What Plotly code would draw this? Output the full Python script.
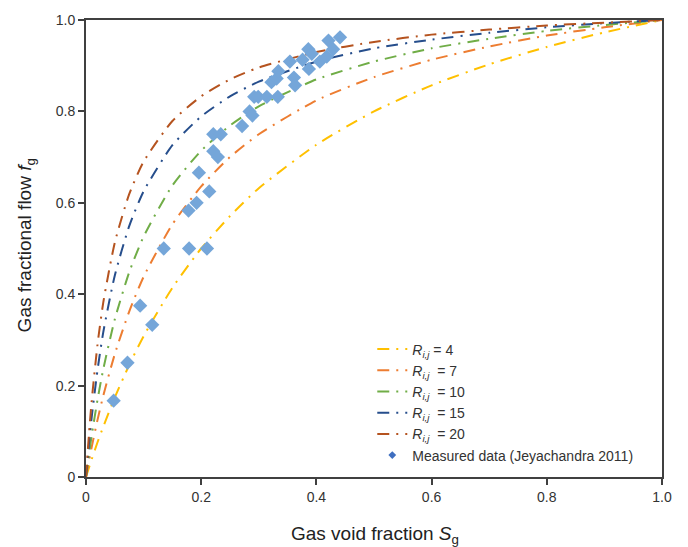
import plotly.graph_objects as go

# Gas void fraction grid for the model curves
s_grid = [0, 0.005, 0.01, 0.02, 0.03, 0.05, 0.075, 0.1, 0.15, 0.2, 0.25,
          0.3, 0.4, 0.5, 0.6, 0.7, 0.8, 0.9, 1.0]

# Gas fractional flow for each resistance ratio R_i,j
fg_r4 = [0, 0.020, 0.039, 0.076, 0.110, 0.174, 0.245, 0.308, 0.414, 0.500,
         0.571, 0.632, 0.727, 0.800, 0.857, 0.903, 0.941, 0.973, 1.0]
fg_r7 = [0, 0.034, 0.066, 0.125, 0.178, 0.269, 0.362, 0.438, 0.553, 0.636,
         0.700, 0.750, 0.824, 0.875, 0.913, 0.942, 0.966, 0.984, 1.0]
fg_r10 = [0, 0.048, 0.092, 0.169, 0.236, 0.345, 0.448, 0.526, 0.638, 0.714,
          0.769, 0.811, 0.870, 0.909, 0.938, 0.959, 0.976, 0.989, 1.0]
fg_r15 = [0, 0.070, 0.132, 0.234, 0.317, 0.441, 0.549, 0.625, 0.726, 0.789,
          0.833, 0.865, 0.909, 0.938, 0.957, 0.972, 0.984, 0.993, 1.0]
fg_r20 = [0, 0.091, 0.168, 0.290, 0.382, 0.513, 0.619, 0.690, 0.779, 0.833,
          0.870, 0.896, 0.930, 0.952, 0.968, 0.979, 0.988, 0.994, 1.0]

# Measured data (Jeyachandra 2011)
meas_sg = [0.048, 0.072, 0.094, 0.115, 0.135, 0.179, 0.210, 0.178, 0.192,
           0.196, 0.214, 0.221, 0.229, 0.221, 0.234, 0.271, 0.284, 0.289,
           0.292, 0.299, 0.314, 0.333, 0.322, 0.331, 0.334, 0.354, 0.361,
           0.363, 0.376, 0.386, 0.387, 0.392, 0.406, 0.421, 0.418, 0.429,
           0.441]
meas_fg = [0.167, 0.250, 0.375, 0.333, 0.500, 0.500, 0.500, 0.583, 0.600,
           0.666, 0.625, 0.713, 0.700, 0.750, 0.750, 0.768, 0.800, 0.791,
           0.832, 0.832, 0.832, 0.832, 0.864, 0.872, 0.888, 0.909, 0.874,
           0.857, 0.913, 0.936, 0.893, 0.926, 0.909, 0.955, 0.920, 0.936,
           0.962]

curve_names = ["<i>R</i><sub><i>i,j</i></sub> = 4",
               "<i>R</i><sub><i>i,j</i></sub> &nbsp;= 7",
               "<i>R</i><sub><i>i,j</i></sub> &nbsp;= 10",
               "<i>R</i><sub><i>i,j</i></sub> &nbsp;= 15",
               "<i>R</i><sub><i>i,j</i></sub> &nbsp;= 20"]
curve_values = [fg_r4, fg_r7, fg_r10, fg_r15, fg_r20]
curve_colors = ["#FFC000", "#ED7D31", "#70AD47", "#264E8C", "#B5531F"]

tick_vals = [0, 0.2, 0.4, 0.6, 0.8, 1.0]
tick_text = ["0", "0.2", "0.4", "0.6", "0.8", "1.0"]

FONT = "Liberation Sans, Arial, sans-serif"
AXIS_COLOR = "#404040"

fig = go.Figure()

for name, vals, color in zip(curve_names, curve_values, curve_colors):
    fig.add_trace(go.Scatter(
        x=s_grid, y=vals, mode="lines", name=name,
        line=dict(color=color, width=2, shape="spline", smoothing=0.6,
                  dash="12px,7px,2px,7px"),
        hoverinfo="skip",
    ))

fig.add_trace(go.Scatter(
    x=meas_sg, y=meas_fg, mode="markers", showlegend=False,
    marker=dict(symbol="diamond", size=11, color="#75A6D9"),
))

# Legend key for the measured data
fig.add_trace(go.Scatter(
    x=[None], y=[None], mode="markers", name="Measured data (Jeyachandra 2011)",
    marker=dict(symbol="diamond", size=6, color="#3F6FC0"),
))

axis_common = dict(
    range=[0, 1], tickvals=tick_vals, ticktext=tick_text,
    showgrid=False, zeroline=False,
    showline=True, linecolor=AXIS_COLOR, linewidth=2, mirror=True,
    ticks="outside", ticklen=6, tickwidth=1.5, tickcolor=AXIS_COLOR,
    tickfont=dict(family=FONT, size=14, color="#333333"),
)

fig.update_layout(
    width=688, height=547,
    margin=dict(l=86, r=26, t=16, b=70),
    paper_bgcolor="white", plot_bgcolor="white",
    font=dict(family=FONT, size=14, color="#333333"),
    xaxis=dict(**axis_common),
    yaxis=dict(**axis_common),
    legend=dict(
        x=0.497, y=0.314, xanchor="left", yanchor="top",
        bgcolor="rgba(0,0,0,0)", font=dict(family=FONT, size=14, color="#333333"),
        tracegroupgap=0,
    ),
    annotations=[
        dict(text="Gas void fraction <i>S</i><sub>g</sub>", xref="paper", yref="paper",
             x=0.501, y=-0.127, xanchor="center", yanchor="middle", showarrow=False,
             font=dict(family=FONT, size=19, color="#222222")),
        dict(text="Gas fractional flow <i>f</i><sub>g</sub>", xref="paper", yref="paper",
             x=-0.104, y=0.507, xanchor="center", yanchor="middle", showarrow=False,
             textangle=-90, font=dict(family=FONT, size=19, color="#222222")),
    ],
)

fig.write_html("out.html")
